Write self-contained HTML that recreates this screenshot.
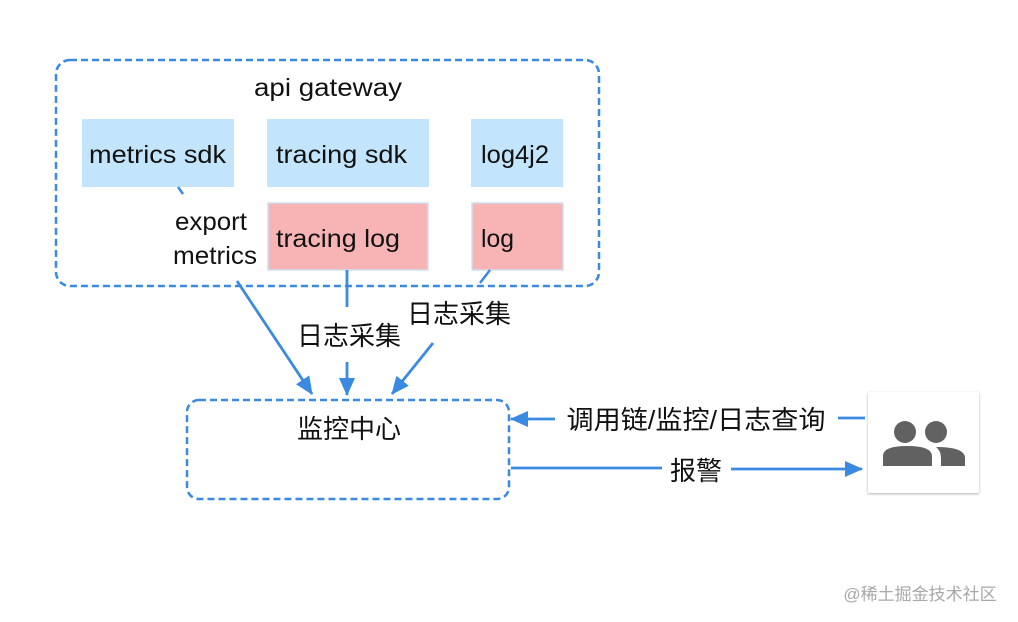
<!DOCTYPE html>
<html><head><meta charset="utf-8"><style>
html,body{margin:0;padding:0;background:#fff;width:1018px;height:622px;overflow:hidden}
text{font-family:"Liberation Sans","Noto Sans CJK SC",sans-serif;fill:#111}
</style></head><body>
<svg width="1018" height="622" viewBox="0 0 1018 622" xmlns="http://www.w3.org/2000/svg">
<defs>
<marker id="ah2" markerWidth="18" markerHeight="16" refX="17" refY="8" orient="auto" markerUnits="userSpaceOnUse" viewBox="0 0 18 16">
<path d="M0,0 L18,8 L0,16 z" fill="#3b8ae2"/></marker>
<filter id="sh" x="-20%" y="-20%" width="140%" height="140%"><feDropShadow dx="0" dy="1" stdDeviation="1.2" flood-color="#000" flood-opacity="0.3"/></filter>
</defs>
<rect x="56" y="60" width="543" height="226" rx="14" fill="none" stroke="#3b8ae2" stroke-width="2.5" stroke-dasharray="7,4"/>
<text x="254" y="96" font-size="25" textLength="148" lengthAdjust="spacingAndGlyphs">api gateway</text>
<rect x="82" y="119" width="152" height="68" fill="#c3e5fb"/>
<text x="89" y="163" font-size="25" textLength="137" lengthAdjust="spacingAndGlyphs">metrics sdk</text>
<rect x="267" y="119" width="162" height="68" fill="#c3e5fb"/>
<text x="276" y="163" font-size="25" textLength="131" lengthAdjust="spacingAndGlyphs">tracing sdk</text>
<rect x="471" y="119" width="92" height="68" fill="#c3e5fb"/>
<text x="481" y="163" font-size="25" textLength="68" lengthAdjust="spacingAndGlyphs">log4j2</text>
<rect x="268" y="203" width="160" height="67" fill="#f8b4b4" stroke="#cfdff0" stroke-width="1.5"/>
<text x="276" y="247" font-size="25" textLength="124" lengthAdjust="spacingAndGlyphs">tracing log</text>
<rect x="472" y="203" width="91" height="67" fill="#f8b4b4" stroke="#cfdff0" stroke-width="1.5"/>
<text x="481" y="247" font-size="25" textLength="33" lengthAdjust="spacingAndGlyphs">log</text>
<text x="175" y="230" font-size="25" textLength="72" lengthAdjust="spacingAndGlyphs">export</text>
<text x="173" y="264" font-size="25" textLength="84" lengthAdjust="spacingAndGlyphs">metrics</text>
<line x1="178" y1="187" x2="183" y2="194" stroke="#3b8ae2" stroke-width="2.5"/>
<line x1="237" y1="281" x2="312" y2="394" stroke="#3b8ae2" stroke-width="2.8" marker-end="url(#ah2)"/>
<line x1="347" y1="270" x2="347" y2="307" stroke="#3b8ae2" stroke-width="2.8"/>
<text x="349" y="345" font-size="26" text-anchor="middle">日志采集</text>
<line x1="347" y1="362" x2="347" y2="395" stroke="#3b8ae2" stroke-width="2.8" marker-end="url(#ah2)"/>
<line x1="490" y1="270" x2="480" y2="283" stroke="#3b8ae2" stroke-width="2.5"/>
<text x="459" y="323" font-size="26" text-anchor="middle">日志采集</text>
<line x1="433" y1="343" x2="392" y2="394" stroke="#3b8ae2" stroke-width="2.8" marker-end="url(#ah2)"/>
<rect x="187" y="400" width="322" height="99" rx="12" fill="none" stroke="#3b8ae2" stroke-width="2.5" stroke-dasharray="7,4"/>
<text x="349" y="438" font-size="26" text-anchor="middle">监控中心</text>
<line x1="865" y1="418" x2="838" y2="418" stroke="#3b8ae2" stroke-width="2.8"/>
<text x="696" y="429" font-size="26" text-anchor="middle" textLength="259" lengthAdjust="spacingAndGlyphs">调用链/监控/日志查询</text>
<line x1="555" y1="419" x2="511" y2="419" stroke="#3b8ae2" stroke-width="2.8" marker-end="url(#ah2)"/>
<line x1="511" y1="468" x2="662" y2="468" stroke="#3b8ae2" stroke-width="2.8"/>
<text x="696" y="480" font-size="26" text-anchor="middle">报警</text>
<line x1="731" y1="469" x2="862" y2="469" stroke="#3b8ae2" stroke-width="2.8" marker-end="url(#ah2)"/>
<rect x="868" y="392" width="111" height="101" fill="#fff" filter="url(#sh)"/>
<circle cx="905" cy="432" r="11" fill="#616161"/>
<circle cx="936" cy="432" r="11" fill="#616161"/>
<path d="M883,466 L883,456 Q883,446 907,446 Q932,446 932,456 L932,466 z" fill="#616161"/>
<path d="M936,447 Q965,447 965,458 L965,466 L941,466 L941,458 Q941,451 936,447 z" fill="#616161"/>
<text x="920" y="600" font-size="17" style="fill:#a8a8a8" text-anchor="middle">@稀土掘金技术社区</text>
</svg>
</body></html>
